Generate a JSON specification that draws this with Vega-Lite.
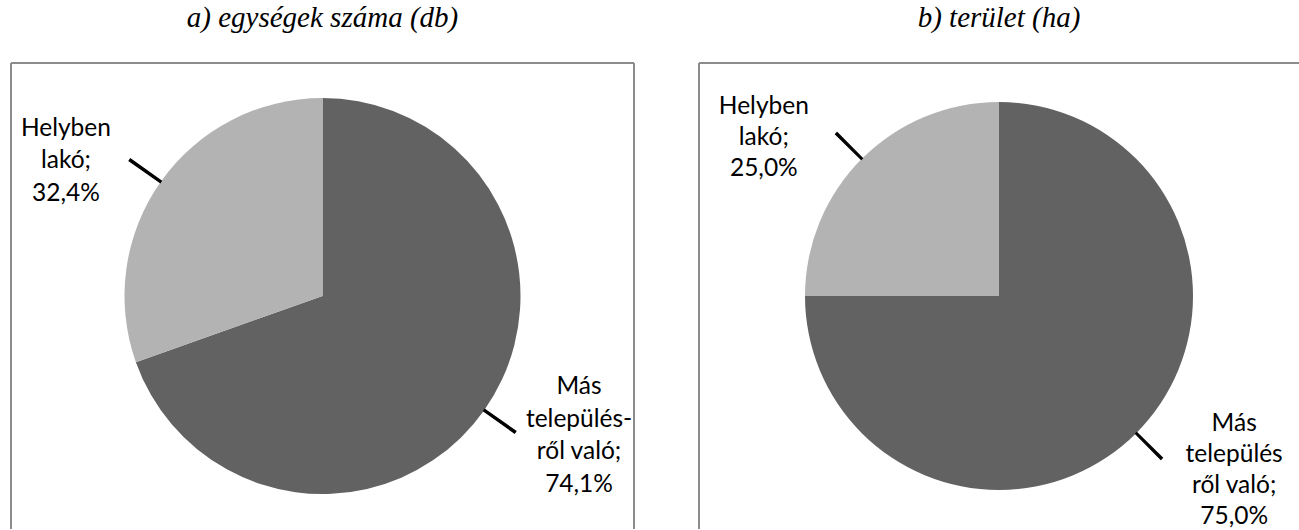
{
  "$schema": "https://vega.github.io/schema/vega-lite/v6.json",
  "padding": {"left": 10, "top": 4, "right": 0, "bottom": 0},
  "background": "white",
  "spacing": 63,
  "config": {
    "view": {"stroke": null},
    "title": {"font": "Liberation Serif", "fontSize": 29, "fontStyle": "italic", "fontWeight": "normal", "color": "#000000", "anchor": "middle", "baseline": "alphabetic", "offset": 29}
  },
  "hconcat": [
    {
      "width": 623,
      "height": 466,
      "title": "a) egységek száma (db)",
      "data": {"values": [
        {"name": "Más településről való", "value": 74.1, "label": "Más\ntelepülés-\nről való;\n74,1%"},
        {"name": "Helyben lakó", "value": 32.4, "label": "Helyben\nlakó;\n32,4%"}
      ]},
      "resolve": {"scale": {"theta": "independent"}},
      "layer": [
        {
          "data": {"values": [{}]},
          "mark": {"type": "rule", "color": "#8c8c8c", "strokeWidth": 2},
          "encoding": {"x": {"value": 0}, "x2": {"value": "width"}, "y": {"value": 0}}
        },
        {
          "data": {"values": [{}]},
          "mark": {"type": "rule", "color": "#8c8c8c", "strokeWidth": 2},
          "encoding": {"x": {"value": 0}, "y": {"value": 0}, "y2": {"value": "height"}}
        },
        {
          "data": {"values": [{}]},
          "mark": {"type": "rule", "color": "#8c8c8c", "strokeWidth": 2},
          "encoding": {"x": {"value": "width"}, "y": {"value": 0}, "y2": {"value": "height"}}
        },
        {
          "mark": {"type": "arc", "radius": 198, "strokeWidth": 0},
          "encoding": {
            "theta": {"field": "value", "type": "quantitative", "stack": true},
            "order": {"field": "name", "sort": "descending"},
            "color": {"field": "name", "type": "nominal", "legend": null, "scale": {"domain": ["Helyben lakó", "Más településről való"], "range": ["#b3b3b3", "#626262"]}}
          }
        },
        {
          "mark": {"type": "text", "radius": 290, "thetaOffset": -0.13, "dy": -32, "font": "Lato", "fontSize": 24.5, "lineBreak": "\n", "lineHeight": 32.5, "align": "center", "baseline": "middle", "color": "#000000"},
          "encoding": {
            "theta": {"field": "value", "type": "quantitative", "stack": true},
            "order": {"field": "name", "sort": "descending"},
            "text": {"field": "label", "type": "nominal"},
            "opacity": {"condition": {"test": "datum.name === 'Helyben lakó'", "value": 1}, "value": 0}
          }
        },
        {
          "mark": {"type": "text", "radius": 290, "thetaOffset": -0.13, "dy": -44, "font": "Lato", "fontSize": 24.5, "lineBreak": "\n", "lineHeight": 32.5, "align": "center", "baseline": "middle", "color": "#000000"},
          "encoding": {
            "theta": {"field": "value", "type": "quantitative", "stack": true},
            "order": {"field": "name", "sort": "descending"},
            "text": {"field": "label", "type": "nominal"},
            "opacity": {"condition": {"test": "datum.name === 'Más településről való'", "value": 1}, "value": 0}
          }
        },
        {
          "transform": [
            {"stack": "value", "groupby": [], "sort": [{"field": "name", "order": "descending"}], "as": ["v0", "v1"]},
            {"joinaggregate": [{"op": "sum", "field": "value", "as": "total"}]},
            {"calculate": "(datum.v0 + datum.v1) / 2 / datum.total - 0.0008", "as": "m0"},
            {"calculate": "(datum.v0 + datum.v1) / 2 / datum.total + 0.0008", "as": "m1"}
          ],
          "mark": {"type": "arc", "radius": 236, "radius2": 198, "color": "#000000", "stroke": "#000000", "strokeWidth": 1.2},
          "encoding": {
            "theta": {"field": "m0", "type": "quantitative", "scale": {"domain": [0, 1]}},
            "theta2": {"field": "m1"}
          }
        }
      ]
    },
    {
      "width": 600,
      "height": 466,
      "title": "b) terület (ha)",
      "data": {"values": [
        {"name": "Más településről való", "value": 75.0, "label": "Más\ntelepülés\nről való;\n75,0%"},
        {"name": "Helyben lakó", "value": 25.0, "label": "Helyben\nlakó;\n25,0%"}
      ]},
      "resolve": {"scale": {"theta": "independent"}},
      "layer": [
        {
          "data": {"values": [{}]},
          "mark": {"type": "rule", "color": "#8c8c8c", "strokeWidth": 2},
          "encoding": {"x": {"value": 0}, "x2": {"value": "width"}, "y": {"value": 0}}
        },
        {
          "data": {"values": [{}]},
          "mark": {"type": "rule", "color": "#8c8c8c", "strokeWidth": 2},
          "encoding": {"x": {"value": 0}, "y": {"value": 0}, "y2": {"value": "height"}}
        },
        {
          "mark": {"type": "arc", "radius": 194, "strokeWidth": 0},
          "encoding": {
            "theta": {"field": "value", "type": "quantitative", "stack": true},
            "order": {"field": "name", "sort": "descending"},
            "color": {"field": "name", "type": "nominal", "legend": null, "scale": {"domain": ["Helyben lakó", "Más településről való"], "range": ["#b3b3b3", "#626262"]}}
          }
        },
        {
          "mark": {"type": "text", "radius": 288, "thetaOffset": -0.17, "dy": -23, "font": "Lato", "fontSize": 24.5, "lineBreak": "\n", "lineHeight": 31, "align": "center", "baseline": "middle", "color": "#000000"},
          "encoding": {
            "theta": {"field": "value", "type": "quantitative", "stack": true},
            "order": {"field": "name", "sort": "descending"},
            "text": {"field": "label", "type": "nominal"},
            "opacity": {"condition": {"test": "datum.name === 'Helyben lakó'", "value": 1}, "value": 0}
          }
        },
        {
          "mark": {"type": "text", "radius": 288, "thetaOffset": -0.17, "dy": -38, "font": "Lato", "fontSize": 24.5, "lineBreak": "\n", "lineHeight": 31, "align": "center", "baseline": "middle", "color": "#000000"},
          "encoding": {
            "theta": {"field": "value", "type": "quantitative", "stack": true},
            "order": {"field": "name", "sort": "descending"},
            "text": {"field": "label", "type": "nominal"},
            "opacity": {"condition": {"test": "datum.name === 'Más településről való'", "value": 1}, "value": 0}
          }
        },
        {
          "transform": [
            {"stack": "value", "groupby": [], "sort": [{"field": "name", "order": "descending"}], "as": ["v0", "v1"]},
            {"joinaggregate": [{"op": "sum", "field": "value", "as": "total"}]},
            {"calculate": "(datum.v0 + datum.v1) / 2 / datum.total - 0.0008", "as": "m0"},
            {"calculate": "(datum.v0 + datum.v1) / 2 / datum.total + 0.0008", "as": "m1"}
          ],
          "mark": {"type": "arc", "radius": 230, "radius2": 194, "color": "#000000", "stroke": "#000000", "strokeWidth": 1.2},
          "encoding": {
            "theta": {"field": "m0", "type": "quantitative", "scale": {"domain": [0, 1]}},
            "theta2": {"field": "m1"}
          }
        }
      ]
    }
  ]
}
